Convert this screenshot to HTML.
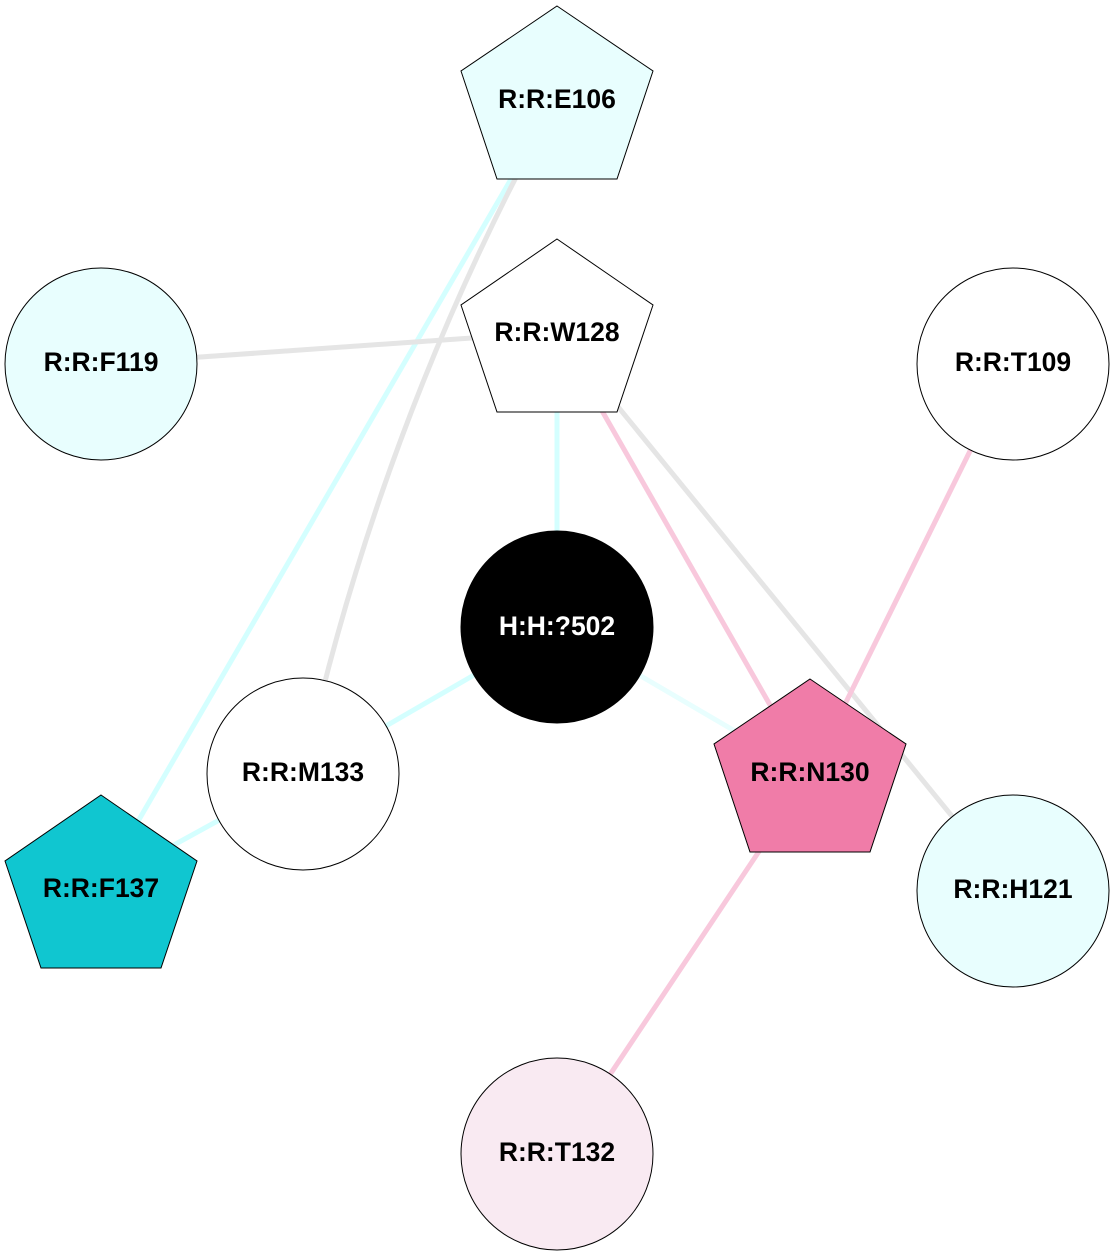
<!DOCTYPE html>
<html><head><meta charset="utf-8"><style>html,body{margin:0;padding:0;background:#fff}svg{display:block}text{font-family:"Liberation Sans",Arial,sans-serif;font-weight:bold;font-size:26.5px;text-anchor:middle;dominant-baseline:central}</style></head>
<body>
<svg width="1115" height="1256" viewBox="0 0 1115 1256" xmlns="http://www.w3.org/2000/svg">
<g stroke-width="5" fill="none">
<line x1="557" y1="100" x2="101" y2="885" stroke="#d4ffff"/>
<path d="M557,100 Q380,420 303,774" stroke="#e5e5e5"/>
<line x1="101" y1="364" x2="557" y2="332" stroke="#e5e5e5"/>
<line x1="557" y1="332" x2="557" y2="627" stroke="#d4ffff"/>
<line x1="557" y1="332" x2="810" y2="775" stroke="#f8c8dc"/>
<line x1="557" y1="332" x2="1013" y2="891" stroke="#e5e5e5"/>
<line x1="1013" y1="364" x2="810" y2="775" stroke="#f8c8dc"/>
<line x1="557" y1="627" x2="303" y2="774" stroke="#d4ffff"/>
<line x1="557" y1="627" x2="810" y2="775" stroke="#e8fefe"/>
<line x1="303" y1="774" x2="101" y2="885" stroke="#d4ffff"/>
<line x1="810" y1="775" x2="557" y2="1154" stroke="#f8c8dc"/>
</g>
<g stroke="#000" stroke-width="1">
<polygon points="557,6 653,71 617,179 497,179 461,71" fill="#e8fefe"/>
<polygon points="557,239 653,305 617,412 497,412 461,305" fill="#fff"/>
<circle cx="101" cy="364" r="96" fill="#e8fefe"/>
<circle cx="1013" cy="364" r="96" fill="#fff"/>
<circle cx="557" cy="627" r="96" fill="#000"/>
<circle cx="303" cy="774" r="96" fill="#fff"/>
<polygon points="810,679 906,744 870,852 750,852 714,744" fill="#f07ca8"/>
<polygon points="101,795 197,861 161,968 41,968 5,861" fill="#10c6d0"/>
<circle cx="1013" cy="891" r="96" fill="#e8fefe"/>
<circle cx="557" cy="1154" r="96" fill="#f9eaf2"/>
</g>
<text x="557" y="99">R:R:E106</text>
<text x="557" y="332">R:R:W128</text>
<text x="101" y="362">R:R:F119</text>
<text x="1013" y="362">R:R:T109</text>
<text x="557" y="626" fill="#fff">H:H:?502</text>
<text x="303" y="772">R:R:M133</text>
<text x="810" y="772">R:R:N130</text>
<text x="101" y="888">R:R:F137</text>
<text x="1013" y="889">R:R:H121</text>
<text x="557" y="1152">R:R:T132</text>
</svg>
</body></html>
